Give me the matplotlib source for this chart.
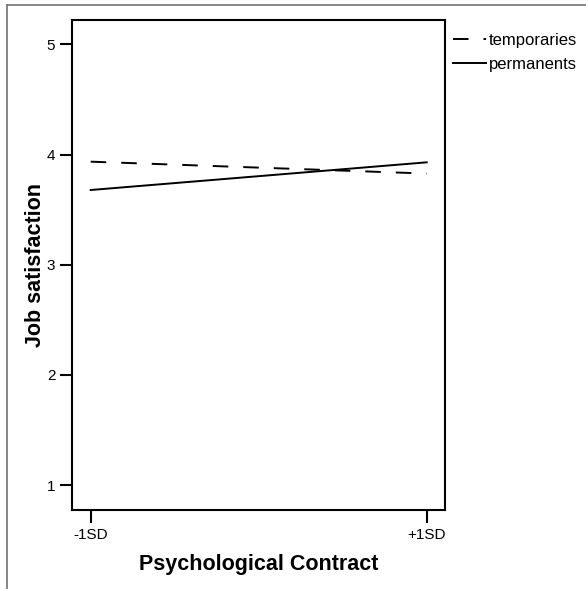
import matplotlib

matplotlib.use("Agg")
import matplotlib.pyplot as plt  # noqa: E402
from matplotlib.lines import Line2D  # noqa: E402

plt.rcParams["font.family"] = ["Liberation Sans", "DejaVu Sans"]

# simple slopes at -1SD / +1SD of psychological contract
X_POS = [0, 1]
X_LABELS = ["-1SD", "+1SD"]
TEMPORARIES = [3.935, 3.827]
PERMANENTS = [3.678, 3.929]
Y_TICKS = [1, 2, 3, 4, 5]

W, H = 586, 589
fig = plt.figure(figsize=(W / 100, H / 100), dpi=100)
ax = fig.add_axes([72 / W, 1 - 509.5 / H, 373 / W, 489.5 / H])

# outer frame (only top/left edges visible in the crop)
fig.add_artist(Line2D([7 / W, 7 / W], [0, 1 - 5 / H],
                      transform=fig.transFigure, color="#666666", lw=1.1))
fig.add_artist(Line2D([7 / W, 1], [1 - 5 / H, 1 - 5 / H],
                      transform=fig.transFigure, color="#666666", lw=1.1))

ax.plot(X_POS, TEMPORARIES, color="black", lw=1.4, dashes=(8, 7.7),
        label="temporaries")
ax.plot(X_POS, PERMANENTS, color="black", lw=1.4, label="permanents")

ax.set_xlim(-0.0557, 1.0545)
ax.set_ylim(0.78, 5.22)
ax.set_xticks(X_POS)
ax.set_xticklabels(X_LABELS)
ax.set_yticks(Y_TICKS)
ax.set_yticklabels([str(v) for v in Y_TICKS])

for sp in ax.spines.values():
    sp.set_linewidth(1.5)
ax.tick_params(axis="both", direction="out", length=9, width=1.5,
               labelsize=11, colors="black")
ax.tick_params(axis="y", pad=3)
ax.tick_params(axis="x", pad=4.5)

ax.set_xlabel("Psychological Contract", fontsize=15.5, fontweight="bold",
              labelpad=8.5)
ax.set_ylabel("Job satisfaction", fontsize=15.5, fontweight="bold",
              labelpad=0.5)

ax.legend(loc="upper left", bbox_to_anchor=(453 / W, 1 - 32.5 / H),
          bbox_transform=fig.transFigure, frameon=False, fontsize=12,
          handlelength=1.95, handletextpad=0.2, labelspacing=0.55,
          borderpad=0, borderaxespad=0)

fig.savefig("out.png", dpi=100)
